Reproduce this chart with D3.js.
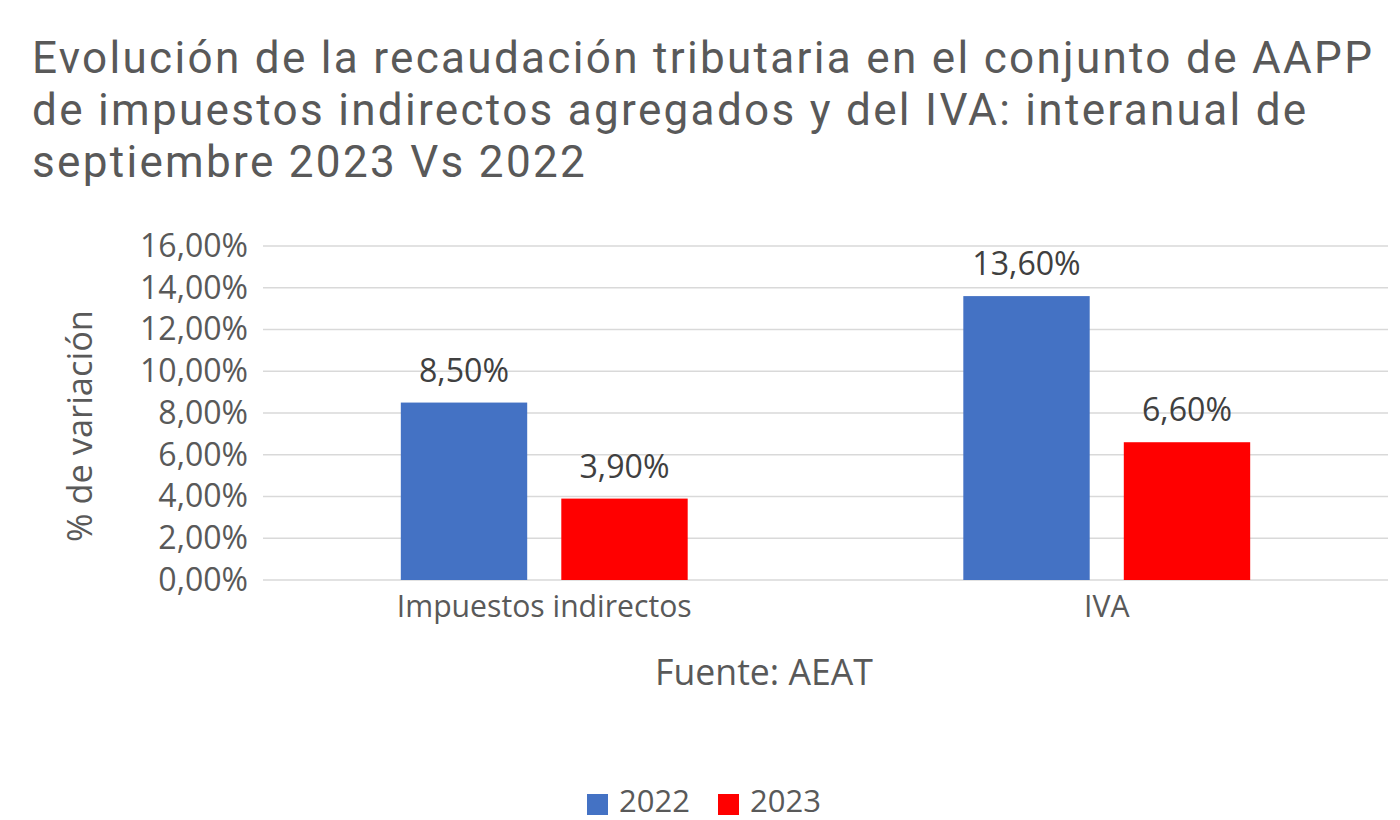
<!DOCTYPE html>
<html>
<head>
<meta charset="utf-8">
<script src="https://cdn.jsdelivr.net/npm/d3@7"></script>
<style>
  html, body { margin: 0; padding: 0; background: #fff; }
  svg { display: block; font-family: "Open Sans", sans-serif; }
</style>
</head>
<body>
<svg id="chart" width="1400" height="820"></svg>
<script>
// data
const categories = ["Impuestos indirectos", "IVA"];
const series = ["2022", "2023"];
const values2022 = [0.085, 0.136];
const values2023 = [0.039, 0.066];
const yTicks = [0, 0.02, 0.04, 0.06, 0.08, 0.10, 0.12, 0.14, 0.16];
const titleLines = [
    "Evolución de la recaudación tributaria en el conjunto de AAPP",
    "de impuestos indirectos agregados y del IVA: interanual de",
    "septiembre 2023 Vs 2022"
];
const seriesColors = { "2022": "#4472C4", "2023": "#FF0000" };

const textColor = "#595959";
const svg = d3.select("#chart");

// scales the font of a selection so its first node matches a given width
function fitWidth(sel, target) {
    const base = 20;
    sel.attr("font-size", base);
    const len = sel.node().getComputedTextLength();
    sel.attr("font-size", base * target / len);
}

const margin = { left: 263, right: 1388, top: 246, bottom: 580 };

const x0 = d3.scaleBand()
    .domain(categories)
    .range([margin.left, margin.right])
    .paddingInner(0.49)
    .paddingOuter(0.245);

const x1 = d3.scaleBand()
    .domain(series)
    .range([0, x0.bandwidth()])
    .paddingInner(0.2125)
    .paddingOuter(0);

const y = d3.scaleLinear()
    .domain([0, 0.16])
    .range([margin.bottom, margin.top]);

const fmt = v => d3.format(".2f")(v * 100).replace(".", ",") + "%";

// title: Roboto has a short line box, so three lines 52px apart don't collide
const lineGap = 52;
const title = svg.append("g")
    .attr("fill", textColor)
    .attr("font-family", "Roboto, sans-serif");
title.selectAll("text")
    .data(titleLines)
    .join("text")
    .attr("x", 32)
    .attr("y", (d, i) => 73 + i * lineGap)
    .text(d => d);
const firstTitle = title.select("text");
fitWidth(firstTitle, 1340);
let titleSize = Math.min(+firstTitle.attr("font-size"), lineGap / 1.18);
title.selectAll("text").attr("font-size", titleSize);
const natural = firstTitle.node().getComputedTextLength();
const spacing = Math.max(0, (1340 - natural) / (titleLines[0].length - 1));
title.selectAll("text").attr("letter-spacing", spacing);

// gridlines
svg.append("g")
    .selectAll("line")
    .data(yTicks)
    .join("line")
    .attr("x1", margin.left)
    .attr("x2", margin.right)
    .attr("y1", d => y(d))
    .attr("y2", d => y(d))
    .attr("stroke", "#D9D9D9")
    .attr("stroke-width", 1.6);

// y axis
const yAxis = svg.append("g")
    .attr("transform", `translate(${margin.left},0)`)
    .call(d3.axisLeft(y).tickValues(yTicks).tickFormat(fmt).tickSize(0).tickPadding(15));
yAxis.select(".domain").remove();
yAxis.selectAll("text")
    .attr("fill", textColor)
    .attr("font-family", "Open Sans, sans-serif");
const topTick = yAxis.selectAll(".tick").filter(d => d === 0.16).select("text");
fitWidth(topTick, 108);
yAxis.selectAll("text").attr("font-size", topTick.attr("font-size"));

// y axis title
const yTitle = svg.append("text")
    .attr("transform", "translate(92,426) rotate(-90)")
    .attr("text-anchor", "middle")
    .attr("fill", textColor)
    .text("% de variación");
fitWidth(yTitle, 232);

// bars
const rows = categories.map((c, i) => ({
    category: c,
    items: [
        { key: "2022", value: values2022[i] },
        { key: "2023", value: values2023[i] }
    ]
}));

const groups = svg.append("g")
    .selectAll("g")
    .data(rows)
    .join("g")
    .attr("transform", d => `translate(${x0(d.category)},0)`);

groups.selectAll("rect")
    .data(d => d.items)
    .join("rect")
    .attr("x", d => x1(d.key))
    .attr("width", x1.bandwidth())
    .attr("y", d => y(d.value))
    .attr("height", d => y(0) - y(d.value))
    .attr("fill", d => seriesColors[d.key]);

const labels = groups.selectAll("text")
    .data(d => d.items)
    .join("text")
    .attr("x", d => x1(d.key) + x1.bandwidth() / 2)
    .attr("y", d => y(d.value) - 21)
    .attr("text-anchor", "middle")
    .attr("fill", "#404040")
    .text(d => fmt(d.value));
const lbl = labels.filter(d => d.value === 0.085);
fitWidth(lbl, 90);
labels.attr("font-size", lbl.attr("font-size"));

// x axis labels
const xLabels = svg.append("g")
    .selectAll("text")
    .data(categories)
    .join("text")
    .attr("x", d => x0(d) + x0.bandwidth() / 2)
    .attr("y", 617)
    .attr("text-anchor", "middle")
    .attr("fill", textColor)
    .text(d => d);
const firstLabel = xLabels.filter((d, i) => i === 0);
fitWidth(firstLabel, 295);
xLabels.attr("font-size", firstLabel.attr("font-size"));

// source note
const source = svg.append("text")
    .attr("x", 764)
    .attr("y", 685)
    .attr("text-anchor", "middle")
    .attr("fill", textColor)
    .text("Fuente: AEAT");
fitWidth(source, 218);

// legend
const legendX = [587, 718];
const legend = svg.append("g")
    .selectAll("g")
    .data(series)
    .join("g")
    .attr("transform", (d, i) => `translate(${legendX[i]},794)`);
legend.append("rect")
    .attr("width", 21)
    .attr("height", 21)
    .attr("fill", d => seriesColors[d]);
const legendText = legend.append("text")
    .attr("x", 32)
    .attr("y", 18)
    .attr("fill", textColor)
    .text(d => d);
const firstLegend = legendText.filter((d, i) => i === 0);
fitWidth(firstLegend, 71);
legendText.attr("font-size", firstLegend.attr("font-size"));
</script>
</body>
</html>
